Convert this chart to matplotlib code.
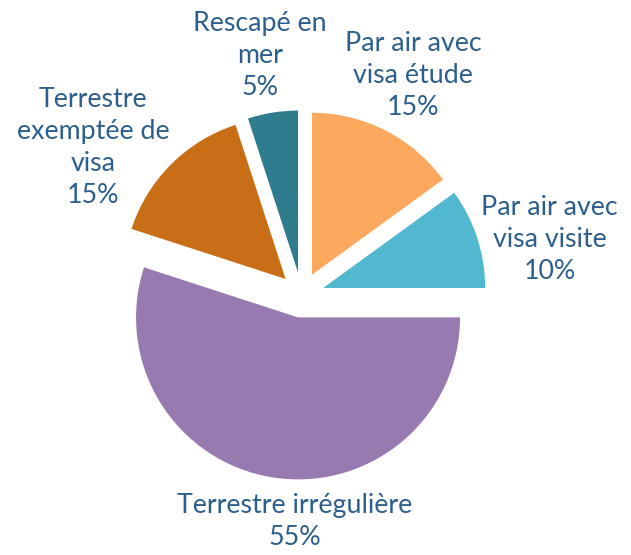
import matplotlib.pyplot as plt
import numpy as np

labels = ["Par air avec\nvisa étude", "Par air avec\nvisa visite", "Terrestre irrégulière",
          "Terrestre\nexemptée de\nvisa", "Rescapé en\nmer"]
values = [15, 10, 55, 15, 5]
colors = ["#FCA85E", "#52B8D0", "#967AB0", "#C76E16", "#2E7C8E"]

# label placement: (angle in degrees, distance from wedge centre in radii)
label_pos = [(63, 1.38), (12, 1.43), (-91, 1.26), (145.6, 1.44), (100, 1.36)]

plt.rcParams['font.family'] = ['Lato', 'DejaVu Sans']

fig = plt.figure(figsize=(6.31, 5.55), dpi=100)
ax = fig.add_axes([0, 0, 1, 1])

wedges, _ = ax.pie(values, colors=colors, startangle=90, counterclock=False,
                   explode=[0.14] * len(values), wedgeprops=dict(linewidth=0))

total = sum(values)
for w, lab, v, (ang, dist) in zip(wedges, labels, values, label_pos):
    cx, cy = w.center
    a = np.deg2rad(ang)
    ax.text(cx + dist * np.cos(a), cy + dist * np.sin(a),
            "%s\n%d%%" % (lab, round(100 * v / total)),
            ha="center", va="center", color="#2C5F8E", fontsize=19.3,
            linespacing=1.35)

r = 162.0
ax.set_xlim(-301.6 / r, (631 - 301.6) / r)
ax.set_ylim(-(555 - 295) / r, 295 / r)
ax.set_aspect("auto")
ax.axis("off")

plt.savefig("out.png", dpi=100)
